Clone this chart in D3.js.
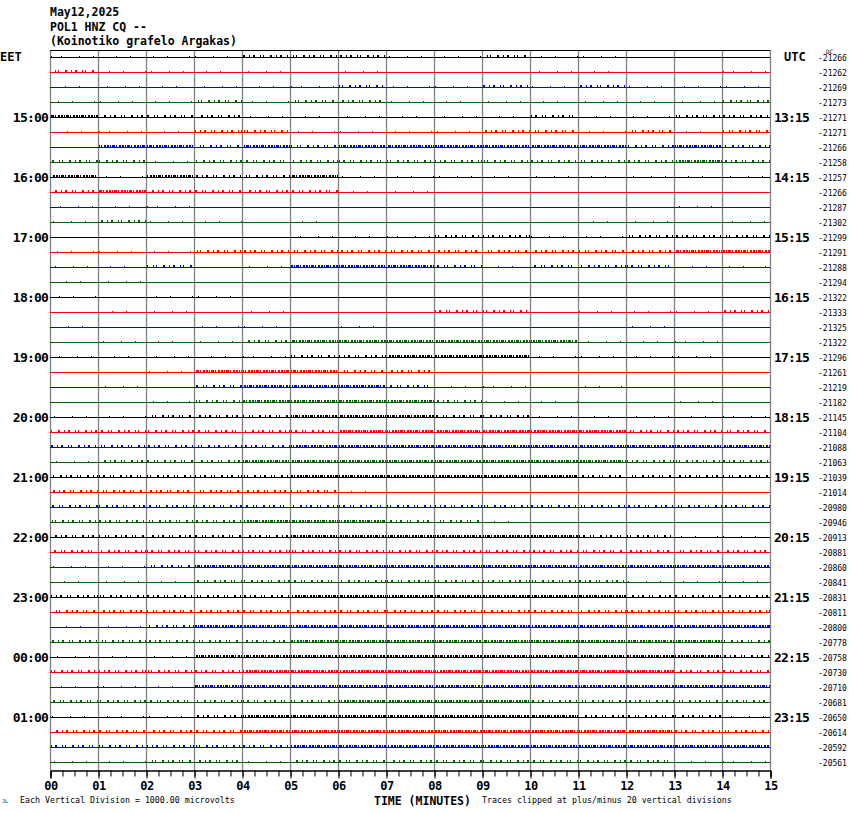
<!DOCTYPE html>
<html><head><meta charset="utf-8">
<script src="https://cdn.jsdelivr.net/npm/d3@7"></script>
<style>body{margin:0;background:#fff}svg{display:block}</style>
</head><body>
<svg id="c" width="850" height="814"></svg>
<script>
// ---------- data ----------
const headerLines = ["May12,2025", "POL1 HNZ CQ --", "(Koinotiko grafelo Argakas)"];
const minuteLabels = ["00","01","02","03","04","05","06","07","08","09","10","11","12","13","14","15"];
const eetLabels = ["15:00","16:00","17:00","18:00","19:00","20:00","21:00","22:00","23:00","00:00","01:00"];
const utcLabels = ["13:15","14:15","15:15","16:15","17:15","18:15","19:15","20:15","21:15","22:15","23:15"];
const dcValues = [-21266,-21262,-21269,-21273,-21271,-21271,-21266,-21258,-21257,-21266,-21287,-21302,
  -21299,-21291,-21288,-21294,-21322,-21333,-21325,-21322,-21296,-21261,-21219,-21182,
  -21145,-21104,-21088,-21063,-21039,-21014,-20980,-20946,-20913,-20881,-20860,-20841,
  -20831,-20811,-20800,-20778,-20758,-20730,-20710,-20681,-20650,-20614,-20592,-20561];
const traceColors = ["#000000","#ff0000","#0000ff","#006400"];
// noise activity per minute (0 none .. 3 dense), rows grouped by trace colour (row = 4*k + colourIndex)
const blackRows = [
  [1,1,1,1,2,2,2,1,1,2,1,1,0,0,0],
  [3,2,2,2,1,1,1,1,1,1,2,1,1,2,2],
  [3,1,3,2,2,3,1,1,1,1,1,1,1,1,1],
  [0,0,0,0,0,1,1,1,2,2,1,1,2,2,2],
  [1,0,1,1,0,0,0,0,0,0,0,0,0,0,0],
  [1,1,1,1,1,2,2,3,3,3,1,1,1,1,0],
  [1,1,2,2,2,3,3,3,2,2,1,1,1,1,1],
  [2,2,2,2,2,3,3,3,3,3,3,2,2,2,2],
  [2,2,2,2,2,3,3,3,3,3,3,2,2,1,1],
  [2,2,2,2,2,3,3,3,3,3,3,3,2,2,2],
  [1,1,1,3,3,3,3,3,3,3,3,3,3,3,2],
  [1,1,1,2,3,3,3,3,3,3,3,2,2,2,1]];
const redRows = [
  [2,1,1,1,1,0,1,0,0,0,1,1,0,0,1],
  [1,1,1,2,2,1,1,1,1,2,2,1,2,1,2],
  [2,3,2,2,2,2,1,1,0,0,0,0,0,0,0],
  [1,1,1,2,2,2,2,2,2,2,2,2,2,3,3],
  [0,1,1,0,1,0,0,0,2,2,0,1,1,1,2],
  [0,0,1,3,3,3,2,2,0,0,0,0,0,0,0],
  [2,2,2,2,2,2,3,3,3,3,3,3,2,2,2],
  [2,2,2,2,2,2,1,0,0,0,0,0,0,0,0],
  [2,2,2,2,2,2,2,2,2,2,2,2,2,2,2],
  [2,2,2,2,2,2,2,2,2,2,2,2,2,2,2],
  [2,2,2,2,3,3,3,3,3,3,3,3,3,2,2],
  [2,2,2,2,3,3,3,3,3,3,3,3,3,2,2]];
const blueRows = [
  [1,1,1,1,1,1,2,1,1,2,1,2,1,1,1],
  [0,3,3,2,3,2,3,3,3,3,3,3,2,3,2],
  [1,1,1,0,0,0,0,0,0,0,0,0,0,1,0],
  [1,1,2,0,1,3,3,3,2,1,2,2,2,1,1],
  [1,0,0,1,1,0,1,0,0,0,0,0,1,0,0],
  [0,1,0,2,3,3,3,2,1,1,0,1,0,0,0],
  [2,2,2,2,2,3,3,3,3,3,3,3,3,3,3],
  [2,2,2,2,2,2,2,2,2,2,2,2,2,2,2],
  [1,1,2,3,3,3,3,3,3,3,3,3,3,3,3],
  [1,1,2,3,3,3,3,3,3,3,3,3,3,3,3],
  [1,1,1,3,3,3,3,3,3,3,3,3,3,3,3],
  [2,2,2,2,2,3,3,3,3,3,3,3,3,3,3]];
const greenRows = [
  [1,1,1,2,1,2,2,1,1,1,1,1,1,1,2],
  [2,2,1,2,2,2,2,2,2,2,2,2,2,3,2],
  [1,2,1,1,0,1,0,0,0,0,0,1,1,0,1],
  [1,1,0,0,0,0,0,0,0,0,0,0,0,0,0],
  [0,1,1,1,2,3,3,3,3,3,3,1,1,1,0],
  [0,0,1,2,3,3,3,3,2,1,1,0,0,1,0],
  [1,2,2,2,3,3,3,3,3,3,3,3,2,2,2],
  [2,2,2,2,3,3,3,2,2,1,0,0,0,0,0],
  [1,1,1,2,2,2,2,2,2,2,2,2,1,1,1],
  [2,2,2,2,2,3,3,3,3,3,3,3,3,3,2],
  [2,2,2,2,2,2,3,3,3,3,2,2,2,2,2],
  [1,1,2,2,1,2,2,2,2,2,2,2,2,1,1]];

// ---------- build ----------
const groups = [blackRows, redRows, blueRows, greenRows];
const nRows = dcValues.length;
const rows = d3.range(nRows).map(i => ({
  i, color: traceColors[i % 4], act: groups[i % 4][Math.floor(i / 4)], dc: dcValues[i]
}));

const svg = d3.select("#c");
svg.append("rect").attr("width", 850).attr("height", 814).attr("fill", "#fff");

const x = d3.scaleLinear().domain([0, 15]).range([50, 770]);
const y = d3.scaleLinear().domain([0, nRows - 1]).range([57, 762]);
const yp = i => Math.round(y(i)) + 0.5;
const mono = "'DejaVu Sans Mono', 'Liberation Mono', monospace";

// vertical grid
svg.append("g").selectAll("line").data(d3.range(0, 16)).join("line")
  .attr("x1", d => Math.round(x(d)) + 0.5).attr("x2", d => Math.round(x(d)) + 0.5)
  .attr("y1", 50).attr("y2", 770)
  .attr("stroke", "#808080").attr("stroke-width", 1.3);

// top border
svg.append("line").attr("x1", 50).attr("x2", 770).attr("y1", 50.5).attr("y2", 50.5)
  .attr("stroke", "#000").attr("stroke-width", 1);

// trace baselines
const tr = svg.append("g");
tr.selectAll("line.base").data(rows).join("line").attr("class", "base")
  .attr("x1", x(0)).attr("x2", x(15))
  .attr("y1", d => yp(d.i)).attr("y2", d => yp(d.i))
  .attr("stroke", d => d.color).attr("stroke-width", 1);

// noise spikes per minute segment
const dashStyle = {1: "1,9,1,17,1,13,1,21", 2: "1,3,2,5,1,2,1,6,2,4", 3: "2,1,1,1,3,1,1,2,2,1"};
const segs = [];
rows.forEach(r => r.act.forEach((L, m) => { if (L > 0) segs.push({r, m, L}); }));
tr.selectAll("line.noise").data(segs).join("line").attr("class", "noise")
  .attr("x1", d => x(d.m) + 1).attr("x2", d => x(d.m + 1))
  .attr("y1", d => Math.round(y(d.r.i)) - (d.L === 1 ? 0.5 : 1))
  .attr("y2", d => Math.round(y(d.r.i)) - (d.L === 1 ? 0.5 : 1))
  .attr("stroke", d => d.r.color)
  .attr("stroke-width", d => d.L === 1 ? 1 : 2)
  .attr("stroke-dasharray", d => dashStyle[d.L])
  .attr("stroke-dashoffset", d => (d.r.i * 7 + d.m * 11) % 23);

// header
svg.append("g").selectAll("text").data(headerLines).join("text")
  .attr("x", 50).attr("y", (d, i) => 16 + i * 14.5)
  .attr("font-family", mono).attr("font-weight", "bold").attr("font-size", "11.5px")
  .text(d => d);

// EET / UTC
svg.append("text").attr("x", 0).attr("y", 61).attr("font-family", mono)
  .attr("font-weight", "bold").attr("font-size", "12px").text("EET");
svg.append("text").attr("x", 784).attr("y", 61).attr("font-family", mono)
  .attr("font-weight", "bold").attr("font-size", "12px").text("UTC");

// hour labels
const hourRows = eetLabels.map((lab, k) => ({row: 4 + 4 * k, eet: lab, utc: utcLabels[k]}));
svg.append("g").selectAll("text").data(hourRows).join("text")
  .attr("x", 48).attr("y", d => y(d.row) + 5).attr("text-anchor", "end")
  .attr("font-family", mono).attr("font-weight", "bold").attr("font-size", "13px")
  .attr("letter-spacing", "-0.8px").text(d => d.eet);
svg.append("g").selectAll("text").data(hourRows).join("text")
  .attr("x", 774).attr("y", d => y(d.row) + 5)
  .attr("font-family", mono).attr("font-weight", "bold").attr("font-size", "13px")
  .attr("letter-spacing", "-0.8px").text(d => d.utc);

// DC values
svg.append("text").attr("x", 826).attr("y", 54).attr("font-family", mono)
  .attr("font-size", "6px").text("DC");
svg.append("g").selectAll("text").data(rows).join("text")
  .attr("x", 818).attr("y", d => y(d.i) + 3.5)
  .attr("font-family", mono).attr("font-size", "8px").text(d => d.dc);

// bottom axis
const axY = 770;
const minor = d3.axisBottom(x).tickValues(d3.range(0, 15.001, 0.25)).tickSize(6).tickFormat("");
const major = d3.axisBottom(x).tickValues(d3.range(0, 16)).tickSize(8).tickPadding(3)
  .tickFormat(d => minuteLabels[d]);
const gMin = svg.append("g").attr("transform", `translate(0.5,${axY + 0.5})`).call(minor);
const gMaj = svg.append("g").attr("transform", `translate(0.5,${axY + 0.5})`).call(major);
[gMin, gMaj].forEach(g => { g.selectAll("path,line").attr("stroke", "#000"); });
gMaj.selectAll("text").attr("font-family", mono).attr("font-weight", "bold")
  .attr("font-size", "12px").attr("letter-spacing", "-0.4px").attr("fill", "#000");

// footer
svg.append("text").attr("x", 2).attr("y", 803).attr("font-family", mono)
  .attr("font-size", "5px").text("JL");
svg.append("text").attr("x", 20).attr("y", 803).attr("font-family", mono)
  .attr("font-size", "8.3px").text("Each Vertical Division = 1000.00 microvolts");
svg.append("text").attr("x", 374).attr("y", 805).attr("font-family", mono)
  .attr("font-weight", "bold").attr("font-size", "11.5px").text("TIME (MINUTES)");
svg.append("text").attr("x", 482).attr("y", 803).attr("font-family", mono)
  .attr("font-size", "8.3px").text("Traces clipped at plus/minus 20 vertical divisions");
</script>
</body></html>
